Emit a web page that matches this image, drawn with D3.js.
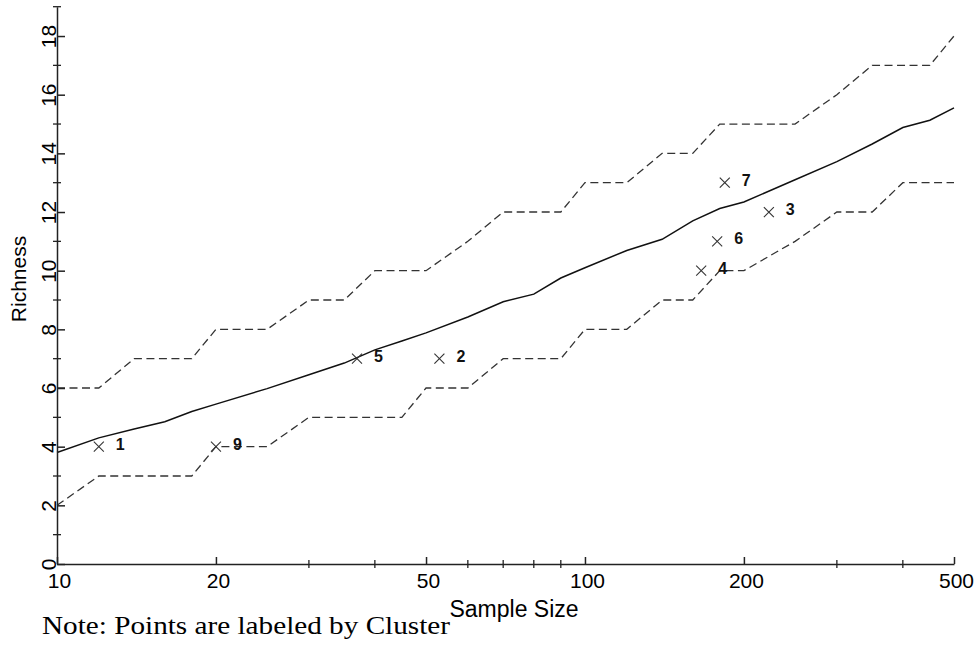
<!DOCTYPE html>
<html><head><meta charset="utf-8">
<script src="https://cdn.jsdelivr.net/npm/d3@7"></script>
<style>body{margin:0;background:#fff}svg{display:block}</style>
</head><body>
<svg id="c" width="980" height="646"></svg>
<script>
// ---- data ----
const sampleSizes      = [10,12,14,16,18,20,25,30,35,40,45,50,60,70,80,90,100,120,140,160,180,200,250,300,350,400,450,500];
const expectedRichness = [3.8,4.3,4.6,4.85,5.2,5.45,5.98,6.45,6.85,7.3,7.6,7.88,8.42,8.94,9.2,9.75,10.1,10.69,11.07,11.7,12.12,12.34,13.1,13.72,14.32,14.88,15.13,15.55];
const upperBound       = [6,6,7,7,7,8,8,9,9,10,10,10,11,12,12,12,13,13,14,14,15,15,15,16,17,17,17,18];
const lowerBound       = [2,3,3,3,3,4,4,5,5,5,5,6,6,7,7,7,8,8,9,9,10,10,11,12,12,13,13,13];
const clusterIds       = ["1","9","5","2","4","6","7","3"];
const clusterSize      = [12,20,37,53,166,178,184,223];
const clusterRichness  = [4,4,7,7,10,11,13,12];
const xTickLabels      = [10,20,50,100,200,500];
const xMinorTicks      = [30,40,60,70,80,90,300,400];
const yTickLabels      = [0,2,4,6,8,10,12,14,16,18];
const yMinorTicks      = [1,3,5,7,9,11,13,15,17,19];

const svg = d3.select("#c");
svg.append("rect").attr("width",980).attr("height",646).attr("fill","#fff");

const x = d3.scaleLog().domain([10,500]).range([57,954]);
const y = d3.scaleLinear().domain([0,19]).range([564,6.7]);
const axisColor = "#222";

// bands
const line = (vals) => d3.line().x((d,i)=>x(sampleSizes[i])).y(d=>y(d))(vals);
svg.append("path").attr("d", line(upperBound)).attr("fill","none")
  .attr("stroke","#333").attr("stroke-width",1.3).attr("stroke-dasharray","8,4.5");
svg.append("path").attr("d", line(lowerBound)).attr("fill","none")
  .attr("stroke","#333").attr("stroke-width",1.3).attr("stroke-dasharray","8,4.5");
svg.append("path").attr("d", line(expectedRichness)).attr("fill","none")
  .attr("stroke","#111").attr("stroke-width",1.5);

// x axis
const gx = svg.append("g").attr("transform","translate(0,564)")
  .call(d3.axisBottom(x).tickValues(xTickLabels).tickFormat(d=>String(d))
        .tickSizeInner(-7).tickSizeOuter(0).tickPadding(9));
gx.selectAll("path,line").attr("stroke",axisColor).attr("stroke-width",1.5);
gx.selectAll("text").attr("font-family","Arial, 'Liberation Sans', sans-serif")
  .attr("font-size",21).attr("fill","#000").attr("dx",2);
gx.selectAll(".minor").data(xMinorTicks).enter().append("line").attr("class","minor")
  .attr("x1",d=>x(d)).attr("x2",d=>x(d)).attr("y1",-4).attr("y2",4)
  .attr("stroke",axisColor).attr("stroke-width",1.3);

// y axis
const gy = svg.append("g").attr("transform","translate(57,0)")
  .call(d3.axisLeft(y).tickValues(yTickLabels).tickFormat(d=>String(d))
        .tickSizeInner(-8).tickSizeOuter(0).tickPadding(0));
gy.selectAll("path,line").attr("stroke",axisColor).attr("stroke-width",1.5);
gy.selectAll("text").attr("font-family","Arial, 'Liberation Sans', sans-serif")
  .attr("font-size",21).attr("fill","#000")
  .attr("transform","rotate(-90)").attr("text-anchor","middle")
  .attr("x",0).attr("y",-1).attr("dy",0);
gy.selectAll(".minor").data(yMinorTicks).enter().append("line").attr("class","minor")
  .attr("y1",d=>y(d)).attr("y2",d=>y(d)).attr("x1",-4).attr("x2",4)
  .attr("stroke",axisColor).attr("stroke-width",1.3);

// axis titles
svg.append("text").attr("transform","translate(26,279) rotate(-90)")
  .attr("text-anchor","middle").attr("font-family","Arial, 'Liberation Sans', sans-serif")
  .attr("font-size",21).text("Richness");
svg.append("text").attr("x",514).attr("y",617).attr("text-anchor","middle")
  .attr("font-family","Arial, 'Liberation Sans', sans-serif").attr("font-size",23).text("Sample Size");
svg.append("text").attr("x",42).attr("y",634)
  .attr("font-family","'Liberation Serif', 'Times New Roman', serif").attr("font-size",26)
  .attr("textLength",408).attr("lengthAdjust","spacingAndGlyphs")
  .text("Note: Points are labeled by Cluster");

// cluster points
const pts = svg.append("g");
clusterIds.forEach((id,i)=>{
  const cx = x(clusterSize[i]), cy = y(clusterRichness[i]);
  const g = pts.append("g").attr("transform",`translate(${cx},${cy})`);
  g.append("line").attr("x1",-5).attr("y1",-5).attr("x2",5).attr("y2",5).attr("stroke","#333").attr("stroke-width",1.1);
  g.append("line").attr("x1",-5).attr("y1",5).attr("x2",5).attr("y2",-5).attr("stroke","#333").attr("stroke-width",1.1);
  g.append("text").attr("x",17).attr("y",3)
   .attr("font-family","Arial, 'Liberation Sans', sans-serif").attr("font-weight","bold")
   .attr("font-size",16).attr("fill","#111").text(id);
});
</script>
</body></html>
